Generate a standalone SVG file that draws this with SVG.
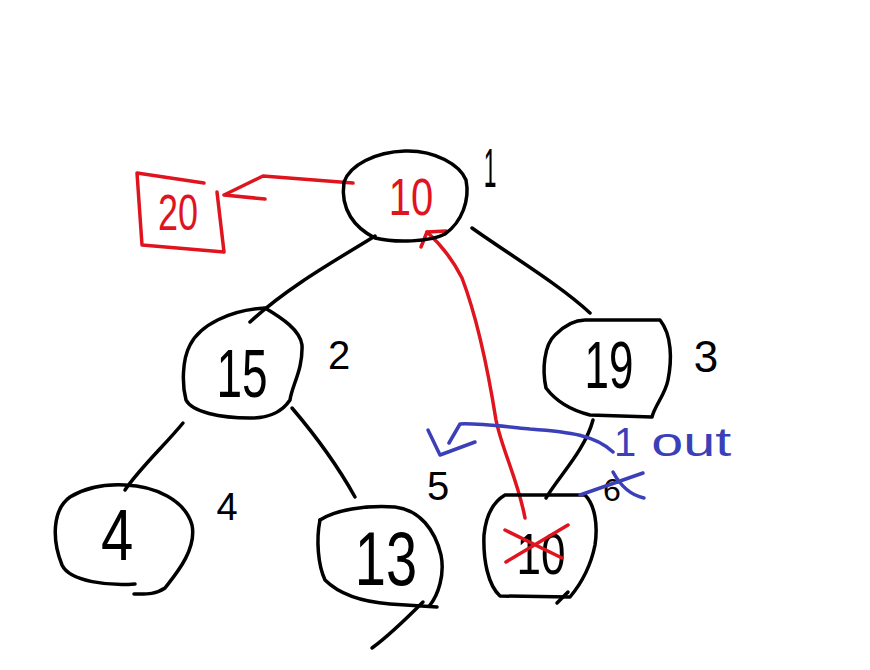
<svg xmlns="http://www.w3.org/2000/svg" width="870" height="670" viewBox="0 0 870 670">
<style>
.s{fill:none;stroke:#000;stroke-width:3.5;stroke-linecap:round;stroke-linejoin:round}
.r{fill:none;stroke:#e0141e;stroke-width:3.5;stroke-linecap:round;stroke-linejoin:round}
.b{fill:none;stroke:#3b3fb8;stroke-width:3.5;stroke-linecap:round;stroke-linejoin:round}
text{font-family:"Liberation Sans","DejaVu Sans",sans-serif;text-anchor:middle}
.t{fill:#000}
.tr{fill:#e0141e}
.tb{fill:#3b3fb8}
</style>
<rect width="870" height="670" fill="#fff"/>
<g id="connectors">
<path class="s" d="M375,236 C340,258 290,285 250,322"/>
<path class="s" d="M472,228 C510,255 560,285 590,313"/>
<path class="s" d="M183,423 C165,445 140,468 125,490"/>
<path class="s" d="M292,408 C315,435 340,470 355,497"/>
<path class="s" d="M593,420 C585,450 560,475 546,498"/>
<path class="r" d="M525,518 C518,480 502,450 496,420 C488,370 478,320 462,278 C452,258 438,242 427,232"/>
<path class="r" d="M421,247 L427,232 L446,231"/>
<path class="r" d="M353,183 L263,176 L224,195 L265,199"/>
<path class="b" d="M613,452 C595,435 570,432 530,429 C500,426 475,423 460,424 L449,443"/>
<path class="b" d="M428,430 L440,455 L475,442"/>
</g>
<g id="node-root">
<path class="s" d="M344,182 C350,165 375,152 405,151 C435,150 460,165 466,180 C470,200 462,222 445,234 C430,242 395,243 375,238 C355,228 340,210 344,182 Z"/>
<text class="tr" font-size="40" transform="translate(411,215) scale(1,1.3)">10</text>
</g>
<g id="label-1"><text class="t" font-size="38" transform="translate(490,187) scale(0.6,1.45)">1</text></g>
<g id="node-20">
<path class="r" d="M204,183 L137,173 L142,245 L224,252 L217,192"/>
<text class="tr" font-size="36" transform="translate(178,230) scale(1,1.4)">20</text>
</g>
<g id="node-15">
<path class="s" d="M265,308 C282,318 300,330 302,345 C303,370 292,385 290,400 C280,415 265,418 250,418 C220,418 192,412 186,400 C182,385 182,360 190,345 C200,325 230,310 265,308 Z"/>
<text class="t" font-size="46" transform="translate(242,397) scale(1,1.5)">15</text>
</g>
<g id="label-2"><text class="t" font-size="40" transform="translate(339,369)">2</text></g>
<g id="node-19">
<path class="s" d="M585,320 L660,320 C672,335 672,360 668,380 C665,395 655,405 652,417 L590,415 C570,410 555,400 546,388 C542,370 544,345 555,335 C565,325 575,320 585,320 Z"/>
<text class="t" font-size="44" transform="translate(609,388) scale(1,1.5)">19</text>
</g>
<g id="label-3"><text class="t" font-size="44" transform="translate(706,372)">3</text></g>
<g id="node-4">
<path class="s" d="M135,584 C110,586 70,582 62,565 C52,540 52,510 70,497 C85,488 105,484 125,485 C155,486 185,500 192,525 C197,550 175,575 165,588 C155,595 145,594 134,594"/>
<text class="t" font-size="58" transform="translate(117,560) scale(1,1.25)">4</text>
</g>
<g id="label-4"><text class="t" font-size="38" transform="translate(227,520)">4</text></g>
<g id="node-13">
<path class="s" d="M320,520 C335,510 365,505 395,507 C420,510 435,530 441,555 C445,575 438,595 430,605"/>
<path class="s" d="M437,607 L390,604 C365,602 340,595 325,580 C318,565 316,540 320,520"/>
<path class="s" d="M423,602 C405,620 390,635 372,648"/>
<text class="t" font-size="56" transform="translate(386,585) scale(1,1.35)">13</text>
</g>
<g id="label-5"><text class="t" font-size="40" transform="translate(438,500)">5</text></g>
<g id="node-10b">
<path class="s" d="M505,495 L585,495 C595,505 598,525 595,545 C590,570 580,585 570,597 L500,596 C488,585 483,560 484,535 C486,515 493,502 505,495 Z"/>
<path class="s" d="M557,603 L568,592"/>
<text class="t" font-size="44" transform="translate(541,574) scale(1,1.3)">10</text>
<path class="r" d="M505,530 L562,558 M506,562 L568,525"/>
</g>
<g id="label-6"><text class="t" font-size="32" transform="translate(612,501)">6</text>
<path class="b" d="M580,495 L643,473 M613,472 C620,485 630,495 644,498"/>
</g>
<g id="label-out"><text class="tb" font-size="40" style="text-anchor:start" transform="translate(614,456)">1 <tspan dx="4" textLength="80" lengthAdjust="spacingAndGlyphs">out</tspan></text></g>
</svg>
